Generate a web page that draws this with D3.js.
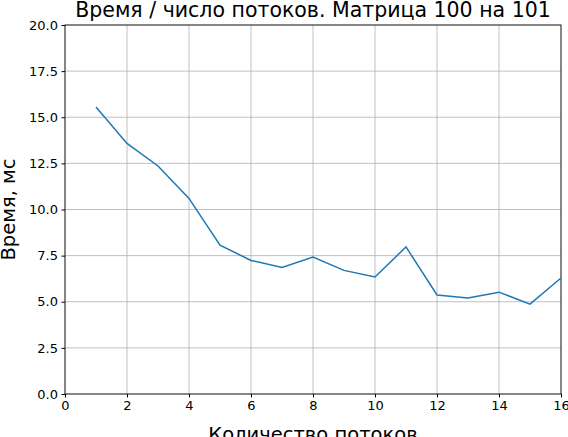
<html>
<body style="margin:0">
<script src="https://d3js.org/d3.v7.min.js"></script>
<div id="main"></div>
<script>
const threads = [1, 2, 3, 4, 5, 6, 7, 8, 9, 10, 11, 12, 13, 14, 15, 16];
const times = [15.56, 13.58, 12.36, 10.6, 8.07, 7.24, 6.86, 7.42, 6.7, 6.34, 7.97, 5.37, 5.21, 5.52, 4.87, 6.29];
const xTicks = [0, 2, 4, 6, 8, 10, 12, 14, 16];
const yTicks = [0, 2.5, 5, 7.5, 10, 12.5, 15, 17.5, 20];

const W = 568, H = 437;
const m = {left: 65, right: 7, top: 25, bottom: 43};
const svg = d3.select("#main").append("svg").attr("width", W).attr("height", H)
  .style("font-family", "DejaVu Sans");

const x = d3.scaleLinear().domain([0, 16]).range([m.left, W - m.right]);
const y = d3.scaleLinear().domain([0, 20]).range([H - m.bottom, m.top]);

// grid
svg.append("g").selectAll("line").data(xTicks).join("line")
  .attr("x1", d => x(d)).attr("x2", d => x(d))
  .attr("y1", y(0)).attr("y2", y(20))
  .attr("stroke", "#b0b0b0").attr("stroke-width", 0.8);
svg.append("g").selectAll("line").data(yTicks).join("line")
  .attr("y1", d => y(d)).attr("y2", d => y(d))
  .attr("x1", x(0)).attr("x2", x(16))
  .attr("stroke", "#b0b0b0").attr("stroke-width", 0.8);

// axes
const xAxis = svg.append("g").attr("transform", `translate(0,${y(0)})`)
  .call(d3.axisBottom(x).tickValues(xTicks).tickSize(3.5).tickPadding(3.5).tickFormat(d3.format("d")));
const yAxis = svg.append("g").attr("transform", `translate(${x(0)},0)`)
  .call(d3.axisLeft(y).tickValues(yTicks).tickSize(3.5).tickPadding(3.5).tickFormat(d3.format(".1f")));
[xAxis, yAxis].forEach(a => {
  a.selectAll("text").attr("font-size", 13).attr("fill", "#000").style("font-family", "DejaVu Sans");
  a.selectAll("line").attr("stroke", "#000");
  a.select(".domain").remove();
});

// frame
svg.append("rect").attr("x", x(0)).attr("y", y(20))
  .attr("width", x(16) - x(0)).attr("height", y(0) - y(20))
  .attr("fill", "none").attr("stroke", "#000").attr("stroke-width", 0.8);

// line
svg.append("path").datum(threads.map((t, i) => [t, times[i]]))
  .attr("fill", "none").attr("stroke", "#1f77b4").attr("stroke-width", 1.5)
  .attr("d", d3.line().x(d => x(d[0])).y(d => y(d[1])));

// labels
svg.append("text").attr("x", (x(0) + x(16)) / 2).attr("y", 17)
  .attr("text-anchor", "middle").attr("font-size", 20.5).text("Время / число потоков. Матрица 100 на 101");
svg.append("text").attr("x", (x(0) + x(16)) / 2).attr("y", 441)
  .attr("text-anchor", "middle").attr("font-size", 19.5).text("Количество потоков");
svg.append("text").attr("transform", `translate(15,${(y(0) + y(20)) / 2}) rotate(-90)`)
  .attr("text-anchor", "middle").attr("font-size", 19.5).text("Время, мс");
</script>
</body>
</html>
